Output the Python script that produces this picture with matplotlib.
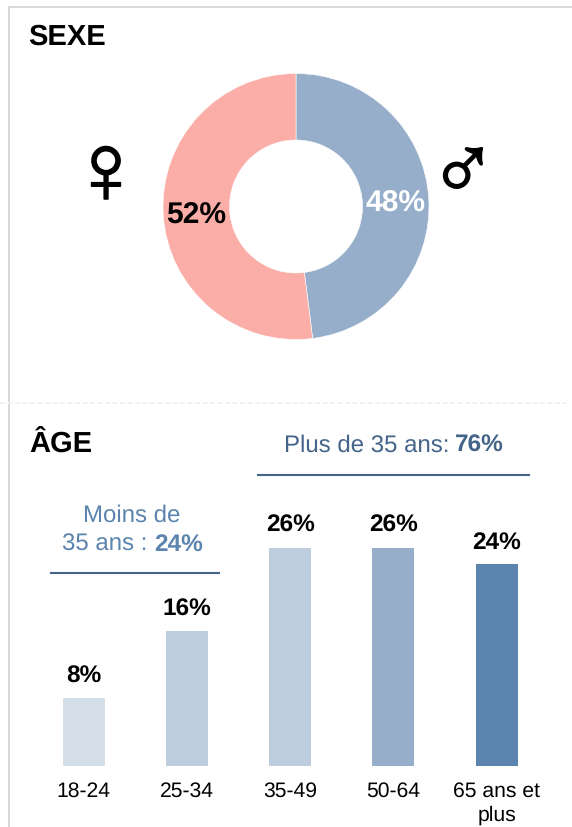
import matplotlib
matplotlib.use("Agg")
import matplotlib.pyplot as plt
import matplotlib.patheffects as pe

plt.rcParams['font.family'] = ['Liberation Sans', 'DejaVu Sans']
plt.rcParams['text.hinting'] = 'no_hinting'

sex_labels = ["48%", "52%"]
sex_values = [48, 52]
sex_colors = ["#96AECA", "#FBADA7"]

age_groups = ["18-24", "25-34", "35-49", "50-64", "65 ans et\nplus"]
age_values = [8, 16, 26, 26, 24]
age_colors = ["#D5DFE9", "#BDCDDE", "#BDCDDE", "#96AECA", "#5B84AE"]

W, H = 572, 828


def px_axes(fig, left, top, right, bottom):
    # axes box given in pixels from the top left corner
    return fig.add_axes([left / W, 1 - bottom / H, (right - left) / W, (bottom - top) / H])


def overlay(fig, z):
    ax = fig.add_axes([0, 0, 1, 1], zorder=z)
    ax.set_xlim(0, W)
    ax.set_ylim(H, 0)
    ax.axis("off")
    return ax


fig = plt.figure(figsize=(W / 100, H / 100), dpi=100, facecolor="white")

bg = overlay(fig, 0)
bg.plot([9, 9], [7.5, H], color="#D9D9D9", lw=1.4)
bg.plot([9, W], [7.5, 7.5], color="#D9D9D9", lw=1.4)
bg.plot([0, 567], [403.5, 403.5], color="#F0F0F0", lw=1.2, dashes=(3, 1.5))

# donut
ax1 = px_axes(fig, 163, 74.5, 429, 340.5)
ax1.pie(sex_values, colors=sex_colors, startangle=90, counterclock=False, radius=1,
        wedgeprops=dict(width=0.5, edgecolor="white", linewidth=0.4))
ax1.set_xlim(-1, 1)
ax1.set_ylim(-1, 1)

# bars
ax2 = px_axes(fig, 32.0, 548.5, 548.2, 766.5)
x = list(range(len(age_groups)))
ax2.bar(x, age_values, width=0.407, color=age_colors)
ax2.set_xlim(-0.5, 4.5)
ax2.set_ylim(0, 26)
ax2.patch.set_alpha(0)
for s in ax2.spines.values():
    s.set_visible(False)
ax2.set_yticks([])
ax2.set_xticks(x)
ax2.set_xticklabels(age_groups, fontsize=15.2, color="black", linespacing=1.3)
ax2.tick_params(axis="x", length=0, pad=10.5)
for i, v in enumerate(age_values):
    ax2.annotate(f"{v}%", (i, v), xytext=(0, 12), textcoords="offset points", ha="center",
                 va="baseline", fontsize=17.6, fontweight="bold", color="black", annotation_clip=False)

fg = overlay(fig, 5)
fg.text(28, 45, "SEXE", fontsize=21, fontweight="bold", color="black", va="baseline")
fg.text(29, 453, "ÂGE", fontsize=21, fontweight="bold", color="black", va="baseline")

# symbols a bit heavier than the font gives
heavy = [pe.withStroke(linewidth=1.2, foreground="black")]
fg.text(106, 178, "♀", fontsize=72, fontweight="bold", ha="center", va="center", path_effects=heavy)
fg.text(463, 173, "♂", fontsize=66, fontweight="bold", ha="center", va="center", path_effects=heavy)

fg.text(395.5, 212, sex_labels[0], fontsize=21.6, fontweight="bold", color="white", ha="center", va="baseline")
fg.text(196.5, 224, sex_labels[1], fontsize=21.6, fontweight="bold", color="black", ha="center", va="baseline")

# group brackets
fg.plot([258, 529], [475.5, 475.5], color="#44648A", lw=1.5)
fg.plot([51, 219], [573.5, 573.5], color="#44648A", lw=1.5)

fg.text(449, 452, "Plus de 35 ans:", fontsize=17.3, color="#44648A", ha="right", va="baseline")
fg.text(455, 452, "76%", fontsize=17.6, fontweight="bold", color="#44648A", ha="left", va="baseline")
fg.text(132, 522, "Moins de", fontsize=17.3, color="#5B84AE", ha="center", va="baseline")
fg.text(147, 551, "35 ans :", fontsize=17.3, color="#5B84AE", ha="right", va="baseline")
fg.text(154, 551, "24%", fontsize=17.6, fontweight="bold", color="#5B84AE", ha="left", va="baseline")

fig.savefig("out.png", dpi=100)
